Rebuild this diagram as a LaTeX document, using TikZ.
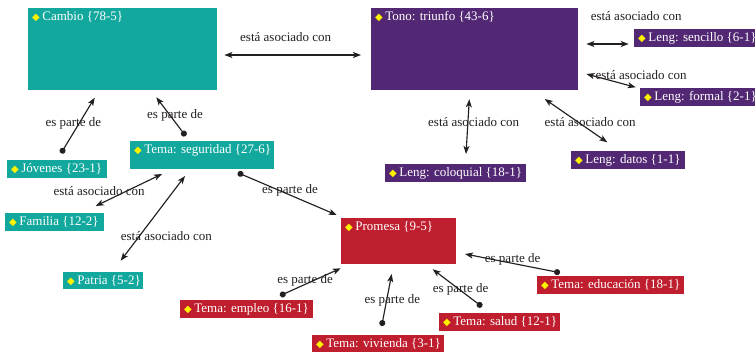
\documentclass[tikz,border=0pt]{standalone}
\usepackage{fontspec}
\setmainfont{Liberation Serif}
\newfontfamily\symfont{DejaVu Sans}
\usetikzlibrary{arrows.meta,calc}

\definecolor{cteal}{HTML}{13A89E}
\definecolor{cpurple}{HTML}{522773}
\definecolor{cred}{HTML}{BE1E2D}
\definecolor{cdot}{HTML}{FFF200}
\definecolor{cink}{HTML}{231F20}

% yellow bullet in front of every topic title
\newcommand{\boxtitle}[1]{{\symfont\fontsize{10}{10}\selectfont\textcolor{cdot}{◆}}\hspace{2.5pt}#1}

\tikzset{
  every node/.style={font=\fontsize{13}{15}\selectfont},
  topic/.style={fill=#1, draw=none, inner sep=0pt, anchor=north west},
  ttl/.style={anchor=base west, inner sep=0pt, text=white, shift={(4,13)}},
  rel/.style={draw=cink, line width=1.15pt},
  part/.style={rel, {Circle[length=6pt]}-{Stealth[length=8pt,width=6pt,inset=2pt]}},
  assoc/.style={rel, {Stealth[length=8pt,width=6pt,inset=2pt]}-{Stealth[length=8pt,width=6pt,inset=2pt]}},
  lbl/.style={anchor=base, inner sep=0pt, text=cink},
}

\begin{document}
\begin{tikzpicture}[x=1pt, y=-1pt]
\useasboundingbox (0,0) rectangle (755,352);

% ---- topics ----
\node[topic=cteal, minimum width=189pt, minimum height=82pt,
      label={[ttl]north west:\boxtitle{Cambio \{78-5\}}}] (cambio) at (28,8) {};
\node[topic=cpurple, minimum width=207pt, minimum height=82pt,
      label={[ttl]north west:\boxtitle{Tono: triunfo \{43-6\}}}] (tono) at (371,8) {};
\node[topic=cpurple, minimum width=122pt, minimum height=18pt,
      label={[ttl]north west:\boxtitle{Leng: sencillo \{6-1\}}}] (sencillo) at (634,29) {};
\node[topic=cpurple, minimum width=116pt, minimum height=18pt,
      label={[ttl]north west:\boxtitle{Leng: formal \{2-1\}}}] (formal) at (640,88) {};
\node[topic=cpurple, minimum width=114pt, minimum height=18pt,
      label={[ttl]north west:\boxtitle{Leng: datos \{1-1\}}}] (datos) at (571,151) {};
\node[topic=cpurple, minimum width=141pt, minimum height=18pt,
      label={[ttl]north west:\boxtitle{Leng: coloquial \{18-1\}}}] (coloquial) at (385,164) {};
\node[topic=cteal, minimum width=100pt, minimum height=18pt,
      label={[ttl]north west:\boxtitle{Jóvenes \{23-1\}}}] (jovenes) at (7,160) {};
\node[topic=cteal, minimum width=144pt, minimum height=28pt,
      label={[ttl]north west:\boxtitle{Tema: seguridad \{27-6\}}}] (seguridad) at (130,141) {};
\node[topic=cteal, minimum width=99pt, minimum height=18pt,
      label={[ttl]north west:\boxtitle{Familia \{12-2\}}}] (familia) at (5,213) {};
\node[topic=cteal, minimum width=80pt, minimum height=17pt,
      label={[ttl]north west:\boxtitle{Patria \{5-2\}}}] (patria) at (63,272) {};
\node[topic=cred, minimum width=115pt, minimum height=46pt,
      label={[ttl]north west:\boxtitle{Promesa \{9-5\}}}] (promesa) at (341,218) {};
\node[topic=cred, minimum width=133pt, minimum height=18pt,
      label={[ttl]north west:\boxtitle{Tema: empleo \{16-1\}}}] (empleo) at (180,300) {};
\node[topic=cred, minimum width=132pt, minimum height=18pt,
      label={[ttl]north west:\boxtitle{Tema: vivienda \{3-1\}}}] (vivienda) at (312,335) {};
\node[topic=cred, minimum width=121pt, minimum height=18pt,
      label={[ttl]north west:\boxtitle{Tema: salud \{12-1\}}}] (salud) at (439,313) {};
\node[topic=cred, minimum width=147pt, minimum height=18pt,
      label={[ttl]north west:\boxtitle{Tema: educación \{18-1\}}}] (educacion) at (537,276) {};

% ---- associations ----
\draw[assoc] ($(cambio.north east)+(7,47)$) --
  node[lbl, shift={(-7,-13)}] {está asociado con} ($(tono.north west)+(-10,47)$);
\draw[assoc] ($(tono.north east)+(8,36)$) --
  node[lbl, shift={(28.7,-23.3)}] {está asociado con} ($(sencillo.north west)+(-5.3,15)$);
\draw[assoc] ($(tono.north east)+(8,66)$) --
  node[lbl, shift={(30,-0.7)}] {está asociado con} ($(formal.north west)+(-4.3,-0.7)$);
\draw[assoc] ($(tono.north west)+(98.3,91.3)$) --
  node[lbl, shift={(6,0)}] {está asociado con} ($(coloquial.north west)+(81,-10)$);
\draw[assoc] ($(tono.north west)+(173.7,91)$) --
  node[lbl, shift={(14.2,6)}] {está asociado con} ($(datos.north west)+(36.3,-8.7)$);
\draw[assoc] ($(seguridad.north west)+(32,33)$) --
  node[lbl, shift={(-29.8,5.7)}] {está asociado con} ($(familia.north west)+(90.7,-7)$);
\draw[assoc] ($(seguridad.north west)+(55,35)$) --
  node[lbl, shift={(13.5,22.3)}] {está asociado con} ($(patria.north west)+(57.7,-11.3)$);

% ---- part-of links ----
\draw[part] ($(jovenes.north west)+(54,-6.7)$) --
  node[lbl, shift={(-4.5,1.5)}] {es parte de} ($(cambio.north west)+(66.7,89.7)$);
\draw[part] ($(seguridad.north west)+(55.7,-5)$) --
  node[lbl, shift={(4,1.6)}] {es parte de} ($(cambio.north west)+(128.3,89.3)$);
\draw[part] ($(seguridad.north west)+(107.7,31.7)$) --
  node[lbl, shift={(2.8,-0.5)}] {es parte de} ($(promesa.north west)+(-4.3,-3)$);
\draw[part] ($(empleo.north west)+(100,-4.3)$) --
  node[lbl, shift={(-5.3,1.3)}] {es parte de} ($(promesa.north west)+(-0.3,50.3)$);
\draw[part] ($(vivienda.north west)+(69.7,-9)$) --
  node[lbl, shift={(5.6,3.3)}] {es parte de} ($(promesa.north west)+(50.7,56)$);
\draw[part] ($(salud.north west)+(43,-6.3)$) --
  node[lbl, shift={(3.2,4.3)}] {es parte de} ($(promesa.north west)+(91.7,51.3)$);
\draw[part] ($(educacion.north west)+(23,-3.3)$) --
  node[lbl, shift={(0.2,-1)}] {es parte de} ($(promesa.north west)+(124,36)$);
\end{tikzpicture}
\end{document}
